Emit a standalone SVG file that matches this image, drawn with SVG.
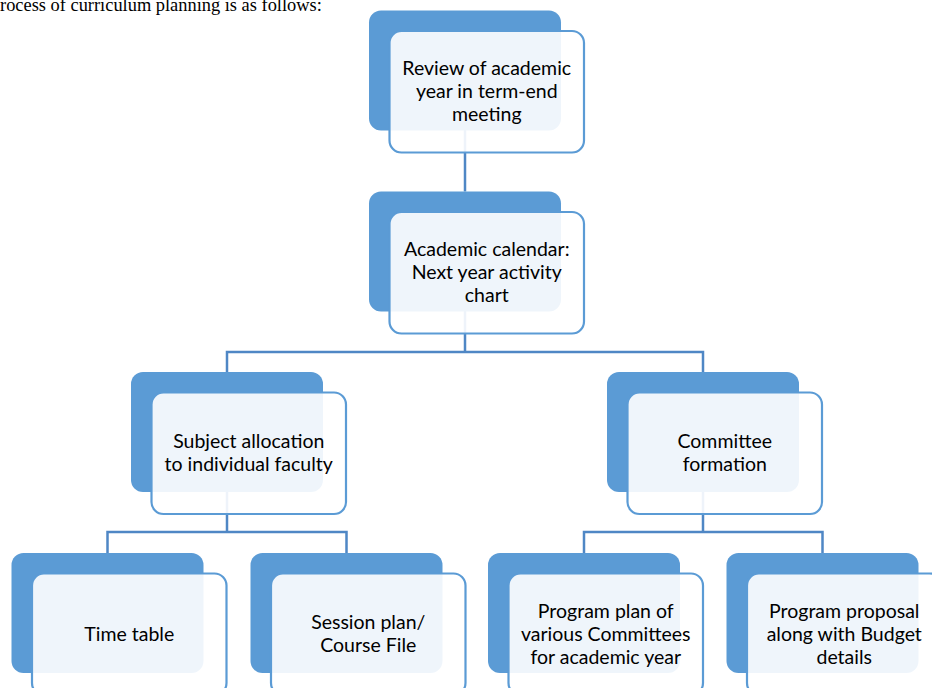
<svg xmlns="http://www.w3.org/2000/svg" width="932" height="688" viewBox="0 0 932 688">
  <style>
    .back { fill: #5B9BD5; }
    .front { fill: #FFFFFF; fill-opacity: 0.9; stroke: #5B9BD5; stroke-width: 2.2; }
    .label { font-family: Lato, "Open Sans", sans-serif; font-size: 19.5px; fill: #000000; text-anchor: middle; }
    .conn { fill: none; stroke: #4F87C5; stroke-width: 2.5; }
    .intro { font-family: "Liberation Serif", "Times New Roman", serif; font-size: 18.4px; fill: #000000; }
  </style>

  <!-- introductory sentence, clipped by the top edge -->
  <text class="intro" x="-10.2" y="10.5">Process of curriculum planning is as follows:</text>

  <!-- connectors (drawn under the boxes) -->
  <g id="connectors">
    <path class="conn" d="M465 130 V191.5"/>
    <path class="conn" d="M465 311 V352"/>
    <path class="conn" d="M227 372 V352 H703 V372"/>
    <path class="conn" d="M227 492 V532"/>
    <path class="conn" d="M107.5 553 V532 H346.5 V553"/>
    <path class="conn" d="M703 492 V532"/>
    <path class="conn" d="M584 553 V532 H822.5 V553"/>
  </g>

  <g id="review">
    <rect class="back" x="369" y="10.5" width="192" height="120" rx="12"/>
    <rect class="front" x="389.5" y="31" width="194.5" height="121.5" rx="12"/>
    <text class="label"><tspan x="486.75" y="75.25">Review of academic</tspan><tspan x="486.75" y="98.25">year in term-end</tspan><tspan x="486.75" y="121.25">meeting</tspan></text>
  </g>

  <g id="calendar">
    <rect class="back" x="369" y="191.5" width="192" height="120" rx="12"/>
    <rect class="front" x="389.5" y="212" width="194.5" height="121.5" rx="12"/>
    <text class="label"><tspan x="486.75" y="256.25">Academic calendar:</tspan><tspan x="486.75" y="279.25">Next year activity</tspan><tspan x="486.75" y="302.25">chart</tspan></text>
  </g>

  <g id="subject-allocation">
    <rect class="back" x="131" y="372" width="192" height="120" rx="12"/>
    <rect class="front" x="151.5" y="392.5" width="194.5" height="121.5" rx="12"/>
    <text class="label"><tspan x="248.75" y="448.25">Subject allocation</tspan><tspan x="248.75" y="471.25">to individual faculty</tspan></text>
  </g>

  <g id="committee-formation">
    <rect class="back" x="607" y="372" width="192" height="120" rx="12"/>
    <rect class="front" x="627.5" y="392.5" width="194.5" height="121.5" rx="12"/>
    <text class="label"><tspan x="724.75" y="448.25">Committee</tspan><tspan x="724.75" y="471.25">formation</tspan></text>
  </g>

  <g id="time-table">
    <rect class="back" x="11.5" y="553" width="192" height="120" rx="12"/>
    <rect class="front" x="32" y="573.5" width="194.5" height="121.5" rx="12"/>
    <text class="label" x="129.25" y="640.75">Time table</text>
  </g>

  <g id="session-plan">
    <rect class="back" x="250.5" y="553" width="192" height="120" rx="12"/>
    <rect class="front" x="271" y="573.5" width="194.5" height="121.5" rx="12"/>
    <text class="label"><tspan x="368.25" y="629.25">Session plan/</tspan><tspan x="368.25" y="652.25">Course File</tspan></text>
  </g>

  <g id="program-plan">
    <rect class="back" x="488" y="553" width="192" height="120" rx="12"/>
    <rect class="front" x="508.5" y="573.5" width="194.5" height="121.5" rx="12"/>
    <text class="label"><tspan x="605.75" y="617.75">Program plan of</tspan><tspan x="605.75" y="640.75">various Committees</tspan><tspan x="605.75" y="663.75">for academic year</tspan></text>
  </g>

  <g id="program-proposal">
    <rect class="back" x="726.5" y="553" width="192" height="120" rx="12"/>
    <rect class="front" x="747" y="573.5" width="194.5" height="121.5" rx="12"/>
    <text class="label"><tspan x="844.25" y="617.75">Program proposal</tspan><tspan x="844.25" y="640.75">along with Budget</tspan><tspan x="844.25" y="663.75">details</tspan></text>
  </g>
</svg>
